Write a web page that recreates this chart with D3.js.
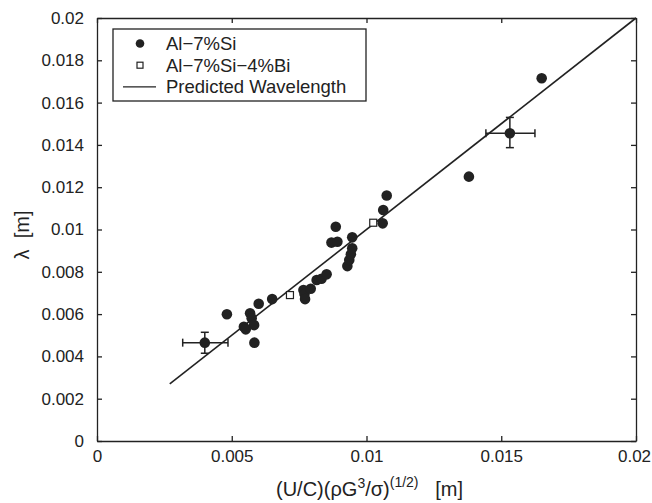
<!DOCTYPE html>
<html>
<head>
    <title>Wavelength vs prediction</title>
    <meta charset="utf-8">
    <style>
        body { margin: 0; background: #fff; }
        text { font-family: "Liberation Sans", Arial, sans-serif; fill: #222; }
    </style>
</head>
<body>
<script src="https://d3js.org/d3.v7.min.js"></script>
<script>
    // Al-7%Si measurements [x, y]
    const alSi = [
        [0.00482, 0.00599], [0.00568, 0.00604], [0.00574, 0.00580], [0.00583, 0.00548],
        [0.00545, 0.00540], [0.00552, 0.00528], [0.00584, 0.00465], [0.00600, 0.00649],
        [0.00650, 0.00671], [0.00766, 0.00714], [0.00770, 0.00695], [0.00772, 0.00671],
        [0.00793, 0.00720], [0.00815, 0.00761], [0.00833, 0.00767], [0.00852, 0.00788],
        [0.00870, 0.00938], [0.00892, 0.00942], [0.00886, 0.01013], [0.00929, 0.00827],
        [0.00936, 0.00856], [0.00942, 0.00883], [0.00947, 0.00911], [0.00947, 0.00963],
        [0.01060, 0.01029], [0.01062, 0.01092], [0.01075, 0.01161], [0.01380, 0.01250],
        [0.01650, 0.01715]
    ];
    // points with error bars [x, y, xLo, xHi, yLo, yHi]
    const alSiErr = [
        [0.00400, 0.00465, 0.00318, 0.00486, 0.00415, 0.00514],
        [0.01532, 0.01455, 0.01443, 0.01625, 0.01387, 0.01530]
    ];
    // Al-7%Si-4%Bi
    const alSiBi = [[0.00716, 0.00690], [0.01025, 0.01032]];
    // predicted wavelength line
    const predicted = [[0.0027, 0.0027], [0.02, 0.02]];

    const xTicks = [0, 0.005, 0.01, 0.015, 0.02];
    const yTicks = [0, 0.002, 0.004, 0.006, 0.008, 0.01, 0.012, 0.014, 0.016, 0.018, 0.02];
    const legendLabels = ['Al\u22127%Si', 'Al\u22127%Si\u22124%Bi', 'Predicted Wavelength'];

    const W = 652, H = 503;
    const M = {left: 97, right: 16, top: 18, bottom: 62};
    const ink = '#222';

    const svg = d3.select('body').append('svg')
        .attr('width', W)
        .attr('height', H);

    const x = d3.scaleLinear().domain([0, 0.02]).range([M.left, W - M.right]);
    const y = d3.scaleLinear().domain([0, 0.02]).range([H - M.bottom, M.top]);

    const fmt = d => d === 0 ? '0' : String(+d.toFixed(3));

    // axes, ticks pointing inward on all four sides
    const axB = svg.append('g').attr('transform', `translate(0,${y(0)})`)
        .call(d3.axisBottom(x).tickValues(xTicks).tickFormat(fmt).tickSizeInner(-5).tickSizeOuter(0).tickPadding(9));
    const axT = svg.append('g').attr('transform', `translate(0,${y(0.02)})`)
        .call(d3.axisTop(x).tickValues(xTicks).tickFormat('').tickSizeInner(-5).tickSizeOuter(0));
    const axL = svg.append('g').attr('transform', `translate(${x(0)},0)`)
        .call(d3.axisLeft(y).tickValues(yTicks).tickFormat(fmt).tickSizeInner(-5).tickSizeOuter(0).tickPadding(13));
    const axR = svg.append('g').attr('transform', `translate(${x(0.02)},0)`)
        .call(d3.axisRight(y).tickValues(yTicks).tickFormat('').tickSizeInner(-5).tickSizeOuter(0));
    [axB, axT, axL, axR].forEach(a => {
        a.selectAll('path, line').attr('stroke', ink).attr('stroke-width', 1.3);
        a.selectAll('text').style('font-size', '17px').attr('fill', ink);
    });
    // keep the last x label inside the picture
    axB.selectAll('.tick text').filter(d => d === 0.02).attr('dx', -2);

    // predicted line
    svg.append('path')
        .datum(predicted)
        .attr('d', d3.line().x(d => x(d[0])).y(d => y(d[1])))
        .attr('fill', 'none').attr('stroke', ink).attr('stroke-width', 1.6);

    // error bars
    const cap = 4;
    const eb = svg.append('g').attr('stroke', ink).attr('stroke-width', 1.5);
    alSiErr.forEach(d => {
        eb.append('line').attr('x1', x(d[2])).attr('x2', x(d[3])).attr('y1', y(d[1])).attr('y2', y(d[1]));
        eb.append('line').attr('x1', x(d[2])).attr('x2', x(d[2])).attr('y1', y(d[1]) - cap).attr('y2', y(d[1]) + cap);
        eb.append('line').attr('x1', x(d[3])).attr('x2', x(d[3])).attr('y1', y(d[1]) - cap).attr('y2', y(d[1]) + cap);
        eb.append('line').attr('x1', x(d[0])).attr('x2', x(d[0])).attr('y1', y(d[4])).attr('y2', y(d[5]));
        eb.append('line').attr('x1', x(d[0]) - cap).attr('x2', x(d[0]) + cap).attr('y1', y(d[4])).attr('y2', y(d[4]));
        eb.append('line').attr('x1', x(d[0]) - cap).attr('x2', x(d[0]) + cap).attr('y1', y(d[5])).attr('y2', y(d[5]));
    });

    // filled circles
    svg.append('g').selectAll('circle')
        .data(alSi.concat(alSiErr.map(d => [d[0], d[1]])))
        .join('circle')
        .attr('cx', d => x(d[0])).attr('cy', d => y(d[1]))
        .attr('r', 5.3).attr('fill', ink);

    // open squares
    svg.append('g').selectAll('rect')
        .data(alSiBi)
        .join('rect')
        .attr('x', d => x(d[0]) - 3.5).attr('y', d => y(d[1]) - 3.5)
        .attr('width', 7).attr('height', 7)
        .attr('fill', '#fff').attr('stroke', ink).attr('stroke-width', 1.2);

    // legend
    const lg = svg.append('g').attr('transform', 'translate(113,29)');
    lg.append('rect').attr('width', 253).attr('height', 72)
        .attr('fill', '#fff').attr('stroke', ink).attr('stroke-width', 1.3);
    const rowY = i => 14.5 + i * 21.7;
    lg.append('circle').attr('cx', 27).attr('cy', rowY(0)).attr('r', 4.3).attr('fill', ink);
    lg.append('rect').attr('x', 24).attr('y', rowY(1) - 3).attr('width', 6).attr('height', 6)
        .attr('fill', '#fff').attr('stroke', ink).attr('stroke-width', 1.2);
    lg.append('line').attr('x1', 10).attr('x2', 43).attr('y1', rowY(2)).attr('y2', rowY(2))
        .attr('stroke', ink).attr('stroke-width', 1.2);
    lg.selectAll('text.lab').data(legendLabels).join('text')
        .attr('class', 'lab')
        .attr('x', 53).attr('y', (d, i) => rowY(i) + 6.5)
        .style('font-size', '18.5px')
        .text(d => d);

    // axis labels
    const xl = svg.append('text')
        .attr('x', (x(0) + x(0.02)) / 2 + 3).attr('y', 496)
        .attr('text-anchor', 'middle')
        .style('font-size', '20px');
    xl.append('tspan').text('(U/C)(\u03C1G');
    xl.append('tspan').attr('dy', -8).style('font-size', '14px').text('3');
    xl.append('tspan').attr('dy', 8).text('/\u03C3)');
    xl.append('tspan').attr('dy', -9).style('font-size', '14px').text('(1/2)');
    xl.append('tspan').attr('dy', 9).text('\u00A0\u00A0\u00A0[m]');

    svg.append('text')
        .attr('transform', `translate(29,235) rotate(-90)`)
        .attr('text-anchor', 'middle')
        .style('font-size', '20px')
        .text('\u03BB\u00A0\u00A0[m]');
</script>
</body>
</html>
